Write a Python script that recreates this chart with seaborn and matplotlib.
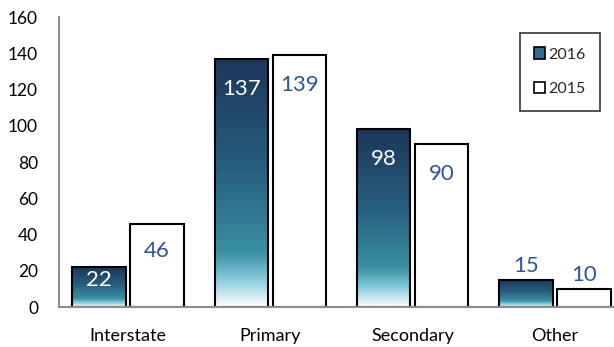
import matplotlib
matplotlib.use("Agg")
import matplotlib.pyplot as plt
import numpy as np
import pandas as pd
import seaborn as sns
from matplotlib.colors import LinearSegmentedColormap
from matplotlib.patches import Patch

categories = ["Interstate", "Primary", "Secondary", "Other"]
values_2016 = [22, 137, 98, 15]
values_2015 = [46, 139, 90, 10]
years = ["2016", "2015"]

df = pd.DataFrame({
    "category": categories * 2,
    "year": [years[0]] * len(categories) + [years[1]] * len(categories),
    "value": values_2016 + values_2015,
})

sns.set_style("white")
plt.rcParams["font.family"] = ["Lato", "DejaVu Sans"]

fig = plt.figure(figsize=(6.14, 3.47), dpi=100)
ax = fig.add_axes([0.096, 0.115, 0.904, 0.836])

sns.barplot(
    data=df, x="category", y="value", hue="year", hue_order=years,
    palette={"2016": "white", "2015": "white"}, width=0.815, gap=0.08,
    edgecolor="black", linewidth=1.5, legend=False, ax=ax,
)

# vertical gradient for the 2016 bars: navy top, teal, fading to white
grad = LinearSegmentedColormap.from_list(
    "grad",
    [(0.0, "#1d3658"), (0.45, "#285f80"), (0.78, "#3a90a2"),
     (0.88, "#7ec6d8"), (1.0, "#ffffff")],
)
img = np.linspace(0, 1, 256).reshape(-1, 1)

bars_2016 = ax.containers[0]
bars_2015 = ax.containers[1]
for bar in bars_2016:
    bar.set_facecolor("none")
    x0, y0 = bar.get_x(), bar.get_y()
    w, h = bar.get_width(), bar.get_height()
    im = ax.imshow(img, cmap=grad, aspect="auto", extent=(x0, x0 + w, y0, y0 + h),
                   origin="upper", zorder=bar.get_zorder() - 0.1, interpolation="bilinear")
    im.set_clip_path(bar)

label_blue = "#2f5597"
for container, vals, inside_color in [(bars_2016, values_2016, "white"),
                                      (bars_2015, values_2015, label_blue)]:
    for bar, v in zip(container, vals):
        cx = bar.get_x() + bar.get_width() / 2
        if v >= 20:
            y = v - min(16.5, 0.33 * v)
            ax.text(cx, y, str(v), ha="center", va="center", fontsize=16, color=inside_color)
        else:
            ax.annotate(str(v), (cx, v), xytext=(0, 10), textcoords="offset points",
                        ha="center", va="center", fontsize=16, color=label_blue)

ax.set_xlim(-0.485, 3.415)
ax.set_ylim(0, 160)
ax.set_yticks(range(0, 161, 20))
ax.set_xlabel("")
ax.set_ylabel("")
for side in ["top", "right"]:
    ax.spines[side].set_visible(False)
for side in ["left", "bottom"]:
    ax.spines[side].set_color("#8c8c8c")
    ax.spines[side].set_linewidth(1.5)
ax.tick_params(axis="y", direction="in", length=6, width=1.2, color="#8c8c8c",
               labelsize=12.5, pad=15, labelcolor="black")
ax.tick_params(axis="x", length=0, labelsize=13, pad=15, labelcolor="black")

handles = [Patch(facecolor="#2f6d8c", edgecolor="black", linewidth=1.2, label="2016"),
           Patch(facecolor="white", edgecolor="black", linewidth=1.2, label="2015")]
leg = ax.legend(handles=handles, loc="upper right", bbox_to_anchor=(0.975, 0.945),
                fontsize=11.5, frameon=True, fancybox=False, handlelength=0.7,
                handleheight=0.7, handletextpad=0.2, labelspacing=1.3,
                borderpad=0.9, borderaxespad=0)
leg.get_frame().set_edgecolor("black")
leg.get_frame().set_linewidth(1.2)

fig.savefig("out.png", dpi=100)
